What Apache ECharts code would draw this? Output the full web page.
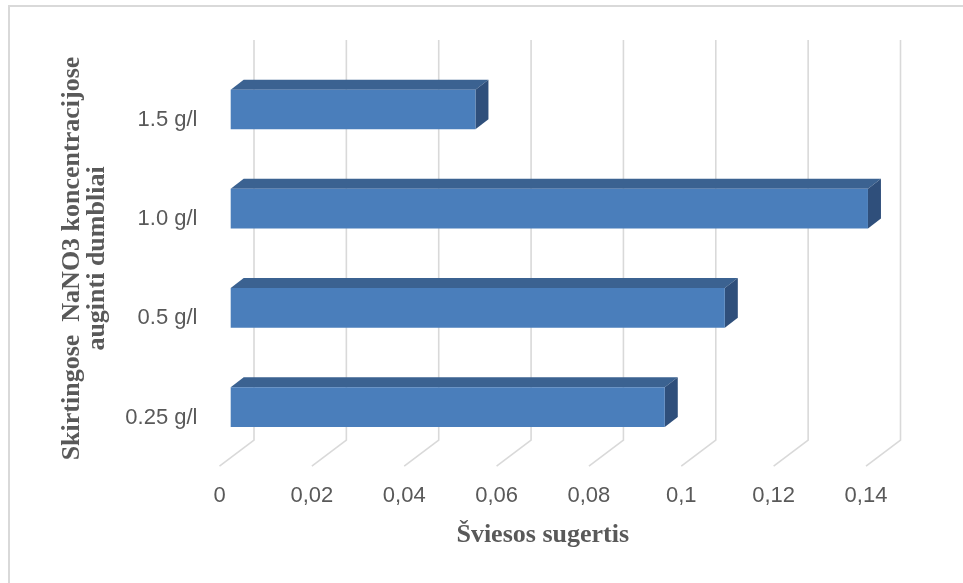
<!DOCTYPE html>
<html>
<head>
<meta charset="utf-8">
<title>Šviesos sugertis</title>
<script src="https://cdn.jsdelivr.net/npm/echarts@6/dist/echarts.min.js"></script>
<style>
  html, body { margin: 0; padding: 0; background: #ffffff; }
  #chart { width: 963px; height: 583px; }
</style>
</head>
<body>
<div id="chart"></div>
<script>
// Concentrations (bottom to top on the category axis)
const categories = ['0.25 g/l', '0.5 g/l', '1.0 g/l', '1.5 g/l'];
// Light absorbance per concentration
const absorbance = [0.094, 0.107, 0.138, 0.053];
// Value-axis ticks and their printed labels
const tickValues = [0, 0.02, 0.04, 0.06, 0.08, 0.1, 0.12, 0.14];
const tickLabels = ['0', '0,02', '0,04', '0,06', '0,08', '0,1', '0,12', '0,14'];

const xTitle = 'Šviesos sugertis';
const yTitle = 'Skirtingose  NaNO3 koncentracijose\nauginti dumbliai';

// 3D look: depth of the floor/wall and of each bar
const WALL_DX = 34.5, WALL_DY = 26, WALL_TOP = 40;
const BAR_DX = 13, BAR_DY = 10, BAR_SHIFT_X = 11.2, BAR_SHIFT_Y = -10.5;

const chart = echarts.init(document.getElementById('chart'), null, { renderer: 'canvas' });

const option = {
  backgroundColor: '#ffffff',
  animation: false,
  grid: { left: 219.5, right: 97, top: 70.4, bottom: 115.8, containLabel: false },
  xAxis: {
    type: 'value',
    min: 0, max: 0.14, interval: 0.02,
    axisLine: { show: false },
    axisTick: { show: false },
    splitLine: { show: false },
    axisLabel: {
      margin: 18,
      color: '#595959',
      fontFamily: 'Liberation Sans',
      fontSize: 22,
      formatter: function (v) {
        const i = tickValues.findIndex(t => Math.abs(t - v) < 1e-9);
        return i >= 0 ? tickLabels[i] : '';
      }
    },
    name: xTitle,
    nameLocation: 'middle',
    nameGap: 55,
    nameTextStyle: {
      color: '#595959',
      fontFamily: 'Liberation Serif',
      fontWeight: 'bold',
      fontSize: 26
    }
  },
  yAxis: {
    type: 'category',
    data: categories,
    axisLine: { show: false },
    axisTick: { show: false },
    splitLine: { show: false },
    axisLabel: {
      margin: 22,
      color: '#595959',
      fontFamily: 'Liberation Sans',
      fontSize: 22
    }
  },
  graphic: [
    {
      type: 'rect',
      silent: true,
      z: -10,
      shape: { x: 9, y: 6, width: 1000, height: 1000 },
      style: { fill: 'none', stroke: '#d9d9d9', lineWidth: 2 }
    },
    {
      type: 'text',
      silent: true,
      x: 84.5, y: 258.5,
      rotation: Math.PI / 2,
      style: {
        text: yTitle,
        align: 'center',
        verticalAlign: 'middle',
        fill: '#595959',
        font: 'bold 26px "Liberation Serif"',
        lineHeight: 25
      }
    }
  ],
  series: [
    {
      // Floor lines and back-wall gridlines
      type: 'custom',
      z: 1,
      silent: true,
      data: tickValues.map(v => [v]),
      encode: { x: 0 },
      renderItem: function (params, api) {
        const cs = params.coordSys;
        const x = api.coord([api.value(0), 0])[0];
        const bottom = cs.y + cs.height - 1;
        return {
          type: 'polyline',
          shape: {
            points: [
              [x, bottom],
              [x + WALL_DX, bottom - WALL_DY],
              [x + WALL_DX, WALL_TOP]
            ]
          },
          style: { stroke: '#d9d9d9', lineWidth: 1.6, fill: 'none' }
        };
      }
    },
    {
      // Bars with top and side faces
      type: 'custom',
      z: 2,
      data: absorbance.map((v, i) => [v, i]),
      encode: { x: 0, y: 1 },
      renderItem: function (params, api) {
        const val = api.value(0);
        const cat = api.value(1);
        const p0 = api.coord([0, cat]);
        const p1 = api.coord([val, cat]);
        const h = api.size([0, 1])[1] * 0.4;
        const xL = p0[0] + BAR_SHIFT_X;
        const xR = p1[0] + BAR_SHIFT_X;
        const yT = p1[1] + BAR_SHIFT_Y - h / 2;
        return {
          type: 'group',
          children: [
            {
              type: 'polygon',
              shape: { points: [[xL, yT], [xL + BAR_DX, yT - BAR_DY], [xR + BAR_DX, yT - BAR_DY], [xR, yT]] },
              style: { fill: '#3b6291' }
            },
            {
              type: 'polygon',
              shape: { points: [[xR, yT], [xR + BAR_DX, yT - BAR_DY], [xR + BAR_DX, yT + h - BAR_DY], [xR, yT + h]] },
              style: { fill: '#2f4f7b' }
            },
            {
              type: 'rect',
              shape: { x: xL, y: yT, width: xR - xL, height: h },
              style: { fill: '#4a7ebb' }
            }
          ]
        };
      }
    }
  ]
};

chart.setOption(option);
</script>
</body>
</html>
